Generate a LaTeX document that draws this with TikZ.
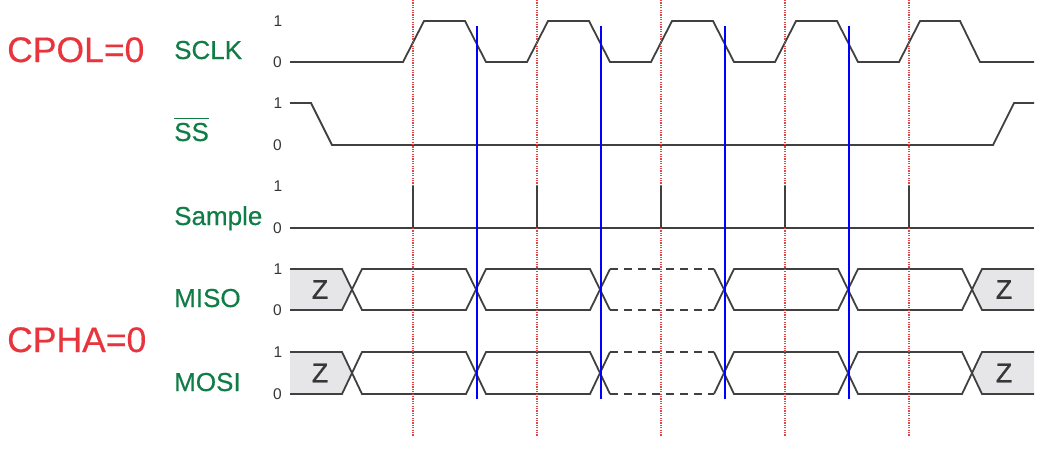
\documentclass[tikz,border=0pt]{standalone}
\usepackage{fontspec}
\setmainfont{Liberation Sans}
\definecolor{wavegray}{RGB}{64,64,64}
\definecolor{numgray}{RGB}{55,55,55}
\definecolor{siggreen}{RGB}{16,124,70}
\definecolor{modered}{RGB}{232,52,60}
\definecolor{zfill}{RGB}{230,230,232}
\definecolor{samplered}{RGB}{226,70,70}
\begin{document}
\begin{tikzpicture}[x=1pt,y=-1pt,
  wave/.style={draw=wavegray, line width=1.8pt, line join=miter},
  lvl/.style={font=\fontsize{15.5}{15.5}\selectfont, text=numgray, inner sep=0},
  sig/.style={font=\fontsize{26}{26}\selectfont\addfontfeatures{FakeBold=0.4}, text=siggreen, inner sep=0, anchor=base west},
  modelab/.style={font=\fontsize{35.5}{35.5}\selectfont\addfontfeatures{FakeBold=0.4}, text=modered, inner sep=0, anchor=base west},
  zlab/.style={font=\fontsize{27}{27}\selectfont\addfontfeatures{FakeBold=0.8}, text=numgray, inner sep=0},
  edgeline/.style={draw=samplered, line width=1.1pt, dash pattern=on 1.1pt off 1.3pt},
  bitline/.style={draw=blue, line width=2pt},
  dashseg/.style={wave, dash pattern=on 8pt off 6pt}
]
\useasboundingbox (0,0) rectangle (1056,456);

% mode labels
\node[modelab] (cpol) at (7,62) {CPOL=0};
\node[modelab] (cpha) at (7,352) {CPHA=0};

% signal labels
\node[sig] (sclk) at (174,59) {SCLK};
\node[sig] (ss) at (174,141) {SS};
\draw[siggreen, line width=1.5pt] ([yshift=4pt]ss.north west) -- ([yshift=4pt]ss.north east);
\node[sig] (sample) at (174,225) {Sample};
\node[sig] (miso) at (174,307) {MISO};
\node[sig] (mosi) at (174,391) {MOSI};

% level labels
\foreach \n/\hi/\lo in {a/21/62, b/103/145, c/186/228, d/269/310, e/352/394} {
  \node[lvl] (one\n) at (278,\hi) {1};
  \node[lvl] (zero\n) at (277.5,\lo) {0};
}

% SCLK
\draw[wave] (290,62) -- (403,62) -- (424,21) -- (465,21) -- (486,62)
  -- (527,62) -- (548,21) -- (589,21) -- (610,62)
  -- (651,62) -- (672,21) -- (713,21) -- (734,62)
  -- (775,62) -- (796,21) -- (837,21) -- (858,62)
  -- (899,62) -- (920,21) -- (960,21) -- (980,62) -- (1034,62);

% SS
\draw[wave] (290,103) -- (311,103) -- (332,145) -- (993,145) -- (1014,103) -- (1034,103);

% Sample baseline
\draw[wave] (290,228) -- (1034,228);

% MISO / MOSI buses
\foreach \T/\B/\nm in {269/310/miso, 352/394/mosi} {
  \pgfmathsetmacro\M{(\T+\B)/2}
  % left Z
  \fill[zfill] (290,\T) -- (342,\T) -- (352,\M) -- (342,\B) -- (290,\B) -- cycle;
  \draw[wave] (290,\T) -- (342,\T) -- (352,\M) -- (342,\B) -- (290,\B);
  \node[zlab] (zl\nm) at (320,\M) {Z};
  % right Z
  \fill[zfill] (1034,\T) -- (982,\T) -- (972,\M) -- (982,\B) -- (1034,\B) -- cycle;
  \draw[wave] (1034,\T) -- (982,\T) -- (972,\M) -- (982,\B) -- (1034,\B);
  \node[zlab] (zr\nm) at (1004,\M) {Z};
  % solid data cells
  \foreach \a/\b in {352/476, 476/600, 724/848, 848/972} {
    \draw[wave] (\a,\M) -- (\a+10,\T) -- (\b-10,\T) -- (\b,\M) -- (\b-10,\B) -- (\a+10,\B) -- cycle;
  }
  % dashed data cell
  \draw[wave] (600,\M) -- (610,\T);
  \draw[wave] (600,\M) -- (610,\B);
  \draw[wave] (724,\M) -- (714,\T);
  \draw[wave] (724,\M) -- (714,\B);
  \draw[dashseg] (610,\T) -- (714,\T);
  \draw[dashseg] (610,\B) -- (714,\B);
}

% sampling edges (red dotted)
\foreach \k in {0,...,4} {
  \coordinate (rt\k) at (413+124*\k,0);
  \coordinate (rb\k) at (413+124*\k,436);
  \draw[edgeline] (rt\k) -- (rb\k);
}

% sample pulses
\foreach \k in {0,...,4} {
  \coordinate (pt\k) at (413+124*\k,186);
  \coordinate (pb\k) at (413+124*\k,228);
  \draw[wave] (pt\k) -- (pb\k);
}

% shift edges (blue)
\foreach \k in {0,...,3} {
  \coordinate (bt\k) at (476.5+124*\k,26);
  \coordinate (bb\k) at (476.5+124*\k,399);
  \draw[bitline] (bt\k) -- (bb\k);
}
\end{tikzpicture}
\end{document}
